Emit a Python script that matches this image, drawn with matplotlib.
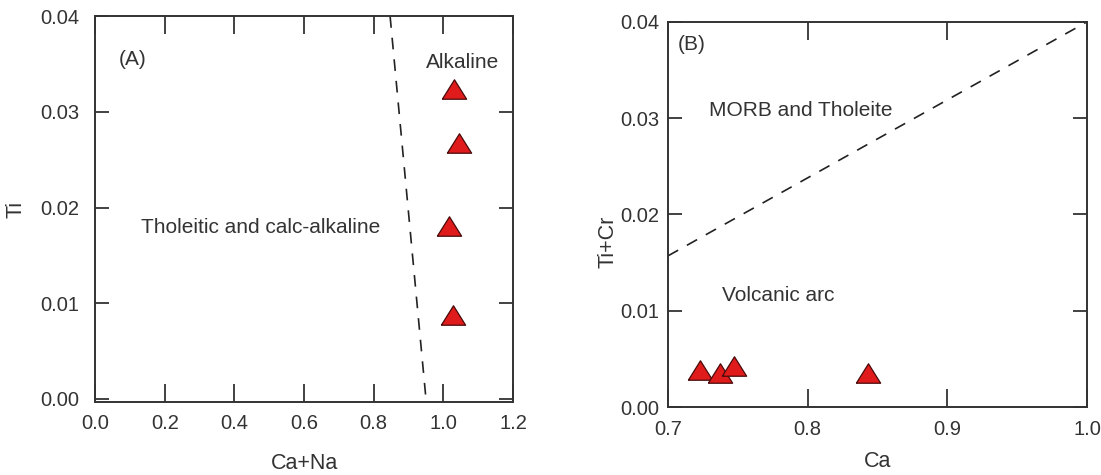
import matplotlib.pyplot as plt
import numpy as np

plt.rcParams['font.family'] = ['Liberation Sans', 'DejaVu Sans']

# Panel A: Ca+Na vs Ti
a_x = [1.031, 1.046, 1.015, 1.028]
a_y = [0.0324, 0.0267, 0.0181, 0.0088]
a_line_x = [0.847, 0.950]
a_line_y = [0.040, 0.000]

# Panel B: Ca vs Ti+Cr
b_x = [0.723, 0.737, 0.747, 0.843]
b_y = [0.0039, 0.0035, 0.0043, 0.0035]
b_line_x = [0.70, 1.00]
b_line_y = [0.0157, 0.0400]

a_xticks = [0.0, 0.2, 0.4, 0.6, 0.8, 1.0, 1.2]
a_yticks = [0.00, 0.01, 0.02, 0.03, 0.04]
b_xticks = [0.7, 0.8, 0.9, 1.0]
b_yticks = [0.00, 0.01, 0.02, 0.03, 0.04]

text_col = '#333333'
tick_fs = 14.5
note_fs = 15
lab_fs = 15.5
tri = [(-1, -0.8), (1, -0.8), (0, 0.8), (-1, -0.8)]

fig = plt.figure(figsize=(11.01, 4.75), dpi=100)
ax1 = fig.add_axes([0.0863, 0.154, 0.3797, 0.812])
ax2 = fig.add_axes([0.6067, 0.143, 0.3806, 0.811])


def style(ax, ypad):
    for s in ax.spines.values():
        s.set_color('#333333')
        s.set_linewidth(1.4)
    ax.tick_params(axis='x', direction='in', top=True, bottom=True, length=13,
                   width=1.3, color='#333333', labelsize=tick_fs, labelcolor=text_col, pad=9)
    ax.tick_params(axis='y', direction='in', left=True, right=True, length=10,
                   width=1.3, color='#333333', labelsize=tick_fs, labelcolor=text_col, pad=ypad)


# ---- panel A
ax1.plot(a_line_x, a_line_y, color='#222222', lw=1.2, dashes=(7, 6))
ax1.plot(a_x, a_y, linestyle='none', marker=tri, markersize=17.5,
         markerfacecolor='#e01b1b', markeredgecolor='#4a0a0a', markeredgewidth=0.9)
ax1.set_xlim(0, 1.2)
ax1.set_ylim(-0.0003, 0.0397)
ax1.set_xticks(a_xticks)
ax1.set_xticklabels(['%.1f' % v for v in a_xticks])
ax1.set_yticks(a_yticks)
ax1.set_yticklabels(['%.2f' % v for v in a_yticks])
style(ax1, 11)
ax1.set_xlabel('Ca+Na', fontsize=lab_fs, color=text_col, labelpad=14)
ax1.set_ylabel('Ti', fontsize=lab_fs, color=text_col)
ax1.yaxis.set_label_coords(-0.163, 0.5)
ax1.text(0.109, 0.0355, '(A)', fontsize=note_fs, color=text_col, ha='center', va='center')
ax1.text(1.054, 0.0352, 'Alkaline', fontsize=note_fs, color=text_col, ha='center', va='center')
ax1.text(0.474, 0.0179, 'Tholeitic and calc-alkaline', fontsize=note_fs, color=text_col,
         ha='center', va='center')

# ---- panel B
ax2.plot(b_line_x, b_line_y, color='#222222', lw=1.2, dashes=(7, 6))
ax2.plot(b_x, b_y, linestyle='none', marker=tri, markersize=17.5,
         markerfacecolor='#e01b1b', markeredgecolor='#4a0a0a', markeredgewidth=0.9)
ax2.set_xlim(0.7, 1.0)
ax2.set_ylim(0, 0.04)
ax2.set_xticks(b_xticks)
ax2.set_xticklabels(['%.1f' % v for v in b_xticks])
ax2.set_yticks(b_yticks)
ax2.set_yticklabels(['%.2f' % v for v in b_yticks])
style(ax2, 6)
ax2.set_xlabel('Ca', fontsize=lab_fs, color=text_col, labelpad=9)
ax2.set_ylabel('Ti+Cr', fontsize=lab_fs, color=text_col)
ax2.yaxis.set_label_coords(-0.117, 0.43)
ax2.text(0.717, 0.0376, '(B)', fontsize=note_fs, color=text_col, ha='center', va='center')
ax2.text(0.795, 0.0308, 'MORB and Tholeite', fontsize=note_fs, color=text_col,
         ha='center', va='center')
ax2.text(0.779, 0.0116, 'Volcanic arc', fontsize=note_fs, color=text_col,
         ha='center', va='center')

fig.savefig('out.png', dpi=100)
